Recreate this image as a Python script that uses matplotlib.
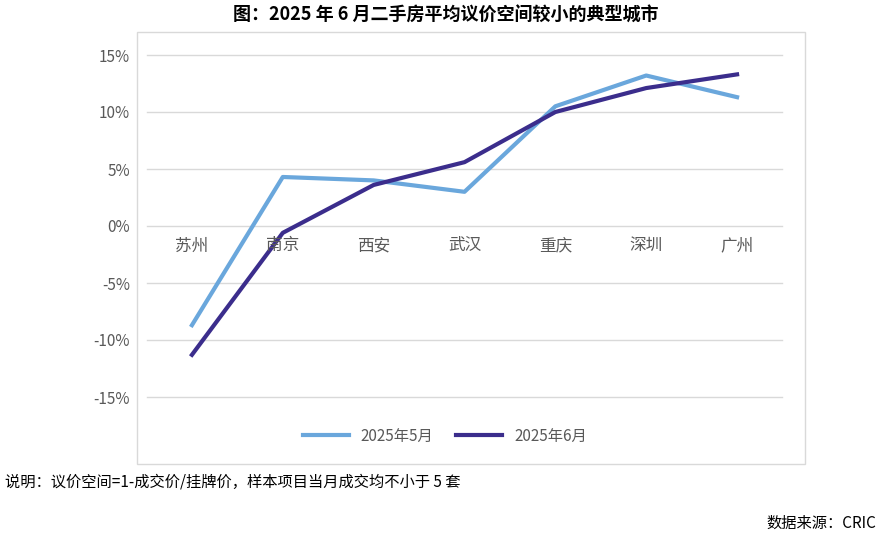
import matplotlib
matplotlib.use("Agg")
import matplotlib.pyplot as plt
from matplotlib.patches import Rectangle
from matplotlib.lines import Line2D

plt.rcParams['font.family'] = ['Noto Sans CJK SC', 'DejaVu Sans']

cities = ["苏州", "南京", "西安", "武汉", "重庆", "深圳", "广州"]
may = [-8.7, 4.3, 4.0, 3.0, 10.5, 13.2, 11.3]
june = [-11.3, -0.6, 3.6, 5.6, 10.0, 12.1, 13.3]
yticks = [-15, -10, -5, 0, 5, 10, 15]

W, H = 881, 538
fig = plt.figure(figsize=(W/100, H/100), dpi=100)
fig.patches.append(Rectangle((137/W, 1-464/H), (805-137)/W, (464-32)/H,
                             transform=fig.transFigure, fill=False, ec='#d9d9d9', lw=1))
ax = fig.add_axes([146.5/W, 1-397/H, 636/W, 342/H])
x = list(range(len(cities)))
c1, c2 = '#6aa7dc', '#3b2d8c'
ax.plot(x, may, color=c1, lw=3, label='2025年5月')
ax.plot(x, june, color=c2, lw=3, label='2025年6月')
ax.set_xlim(-0.5, 6.5)
ax.set_ylim(-15, 15)
ax.set_yticks(yticks)
ax.set_yticklabels([f"{v}%" for v in yticks], color='#595959', fontsize=11)
ax.tick_params(axis='y', length=0, pad=12)
ax.set_xticks([])
for v in yticks:
    ax.axhline(v, color='#d9d9d9', lw=1, zorder=0, clip_on=False)
for s in ax.spines.values():
    s.set_visible(False)
for i, c in enumerate(cities):
    ax.text(i, -1.0, c, ha='center', va='top', fontsize=12, color='#595959')
ax.set_zorder(1)
fig.legend(handles=[Line2D([], [], color=c1, lw=3), Line2D([], [], color=c2, lw=3)],
           labels=['2025年5月', '2025年6月'], loc='center', bbox_to_anchor=(445/W, 1-436/H),
           ncol=2, frameon=False, fontsize=11, handlelength=3, columnspacing=1.5,
           labelcolor='#595959')
fig.text(446/W, 1-15/H, "图：2025 年 6 月二手房平均议价空间较小的典型城市", ha='center', va='center',
         fontsize=13, fontweight='bold')
fig.text(5/W, 1-482/H, "说明：议价空间=1-成交价/挂牌价，样本项目当月成交均不小于 5 套", ha='left',
         va='center', fontsize=11)
fig.text(876/W, 1-523/H, "数据来源：CRIC", ha='right', va='center', fontsize=11)
fig.savefig("out.png", dpi=100)
